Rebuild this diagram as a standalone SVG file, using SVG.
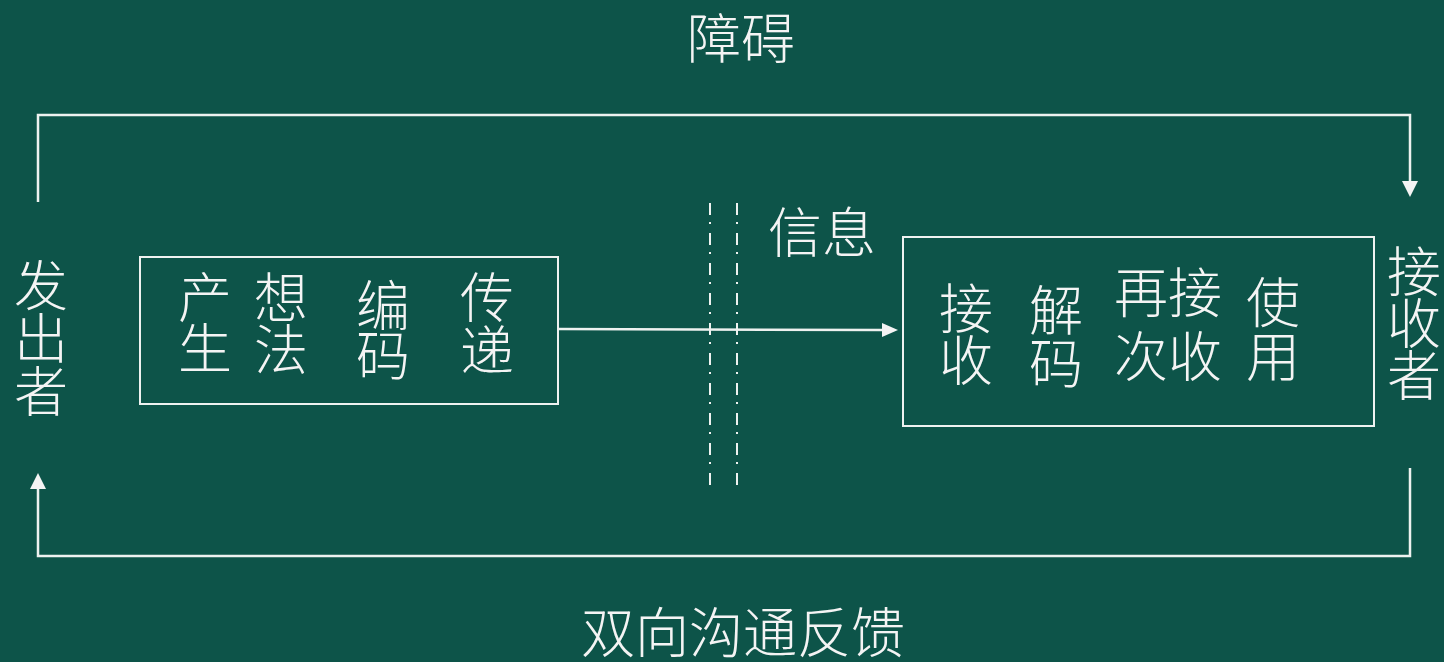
<svg xmlns="http://www.w3.org/2000/svg" width="1444" height="662" viewBox="0 0 1444 662">
<defs>
<style>
.t{font-family:"Noto Sans CJK SC","Noto Sans CJK TC",sans-serif;font-size:54px;font-weight:300;fill:#f4f4f4;text-anchor:middle}
.ln{fill:none;stroke:#eef2f0;stroke-width:2.5}
.box{fill:none;stroke:#eef2f0;stroke-width:2}
.dd{fill:none;stroke:#eef2f0;stroke-width:2;stroke-dasharray:12 7 2 9}
</style>
<marker id="ah" viewBox="0 0 16 16" refX="0" refY="8" markerWidth="16" markerHeight="16" markerUnits="userSpaceOnUse" orient="auto">
<path d="M0,0 L16,8 L0,16 z" fill="#f4f4f4"/>
</marker>
<marker id="ah2" viewBox="0 0 16 14" refX="0" refY="7" markerWidth="16" markerHeight="14" markerUnits="userSpaceOnUse" orient="auto">
<path d="M0,0 L16,7 L0,14 z" fill="#f4f4f4"/>
</marker>
</defs>
<rect width="1444" height="662" fill="#0d5449"/>
<g id="connectors">
<path class="ln" d="M38,202 V115 H1410 V181" marker-end="url(#ah)"/>
<path class="ln" d="M1410,468 V556 H38 V489" marker-end="url(#ah)"/>
<path class="ln" d="M558,329 L882,330" marker-end="url(#ah2)"/>
<line class="dd" x1="710" y1="203" x2="710" y2="491"/>
<line class="dd" x1="737" y1="203" x2="737" y2="491"/>
</g>
<g id="label-obstacle"><text class="t" x="741" y="59">障碍</text></g>
<g id="label-info"><text class="t" x="822" y="253">信息</text></g>
<g id="label-feedback"><text class="t" x="743" y="653">双向沟通反馈</text></g>
<g id="sender">
<text class="t" x="41" y="306">发<tspan x="41" dy="53">出</tspan><tspan x="41" dy="53">者</tspan></text>
</g>
<g id="receiver">
<text class="t" x="1414" y="292">接<tspan x="1414" dy="52">收</tspan><tspan x="1414" dy="52">者</tspan></text>
</g>
<g id="send-box">
<rect class="box" x="140" y="257" width="418" height="147"/>
<text class="t" x="205" y="318">产<tspan x="205" dy="51">生</tspan></text>
<text class="t" x="281" y="318">想<tspan x="281" dy="52">法</tspan></text>
<text class="t" x="383" y="326">编<tspan x="383" dy="50">码</tspan></text>
<text class="t" x="487" y="318">传<tspan x="487" dy="53">递</tspan></text>
</g>
<g id="receive-box">
<rect class="box" x="903" y="237" width="471" height="189"/>
<text class="t" x="966" y="329">接<tspan x="966" dy="52">收</tspan></text>
<text class="t" x="1056" y="331">解<tspan x="1056" dy="53">码</tspan></text>
<text class="t" x="1168" y="313">再接<tspan x="1168" dy="64">次收</tspan></text>
<text class="t" x="1273" y="323">使<tspan x="1273" dy="54">用</tspan></text>
</g>
</svg>
